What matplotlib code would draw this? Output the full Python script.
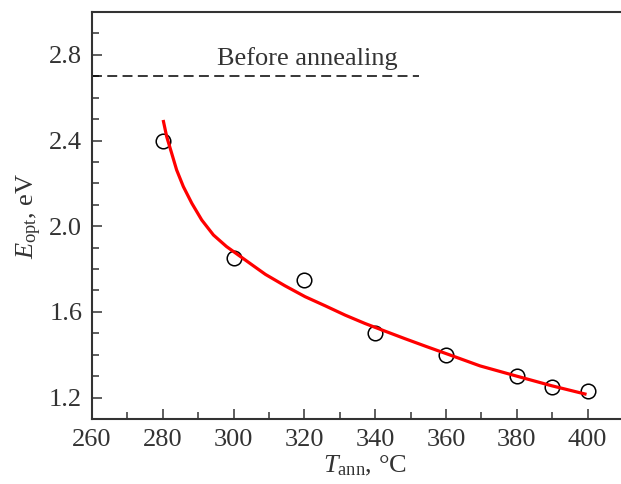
import matplotlib
matplotlib.use("Agg")
import matplotlib.pyplot as plt
import numpy as np

plt.rcParams['font.family'] = ['Liberation Serif', 'DejaVu Serif']
plt.rcParams['mathtext.fontset'] = 'custom'
plt.rcParams['mathtext.rm'] = 'Liberation Serif'
plt.rcParams['mathtext.it'] = 'Liberation Serif:italic'

# measured points
t_ann = [280, 300, 320, 340, 360, 380, 390, 400]
e_opt = [2.40, 1.85, 1.75, 1.50, 1.40, 1.30, 1.25, 1.23]

# fitted curve
fit_t = [280.1, 281.1, 282.5, 283.9, 285.8, 288.2, 291.0, 294.3, 298.0,
         301.8, 305.6, 309.0, 314.5, 320.2, 325.8, 331.5, 337.1, 342.8,
         348.4, 354.5, 361.1, 369.6, 380.0, 389.9, 399.7]
fit_e = [2.496, 2.418, 2.341, 2.263, 2.185, 2.107, 2.029, 1.959, 1.905,
         1.860, 1.815, 1.775, 1.722, 1.671, 1.629, 1.585, 1.546, 1.510,
         1.475, 1.438, 1.399, 1.348, 1.300, 1.255, 1.215]

# before annealing level
before_t = [260, 352.4]
before_e = [2.70, 2.70]

txt = '#333333'

fig = plt.figure(figsize=(6.21, 4.84), dpi=100)
ax = fig.add_axes([92/621, 65/484, 531/621, 407/484])

ax.plot(t_ann, e_opt, linestyle='none', marker='o', markersize=10.5,
        markerfacecolor='none', markeredgecolor='black', markeredgewidth=1.1, zorder=2)
ax.plot(fit_t, fit_e, color='#ff0000', lw=2.3, zorder=3,
        solid_joinstyle='round', solid_capstyle='butt')
ax.plot(before_t, before_e, color='black', lw=1.1, linestyle=(0, (6.5, 3.5)), zorder=2)
ax.text(320.7, 2.753, 'Before annealing', ha='center', va='baseline',
        fontsize=19, color=txt)

ax.set_xlim(260, 410)
ax.set_ylim(1.1, 3.0)
ax.set_xticks(np.arange(260, 401, 20))
ax.set_xticks(np.arange(270, 401, 10), minor=True)
ax.set_yticks([1.2, 1.6, 2.0, 2.4, 2.8])
ax.set_yticks(np.arange(1.2, 2.95, 0.1), minor=True)
ax.set_yticklabels(['1.2', '1.6', '2.0', '2.4', '2.8'])

ax.tick_params(which='both', direction='in', colors=txt, width=1.1,
               labelsize=19, labelcolor=txt, top=False, right=False)
ax.tick_params(which='major', length=7, pad=7)
ax.tick_params(which='minor', length=4.8)

for s in ['left', 'bottom', 'top']:
    ax.spines[s].set_color(txt)
    ax.spines[s].set_linewidth(1.5)
ax.spines['right'].set_visible(False)

ax.set_xlabel(r'$T_{\mathrm{ann}}$, °C', fontsize=19, color=txt, labelpad=0)
ax.set_ylabel(r'$E_{\mathrm{opt}}$, eV', fontsize=19, color=txt, labelpad=4)
ax.xaxis.set_label_coords(0.514, -0.085)

fig.savefig('out.png', dpi=100)
